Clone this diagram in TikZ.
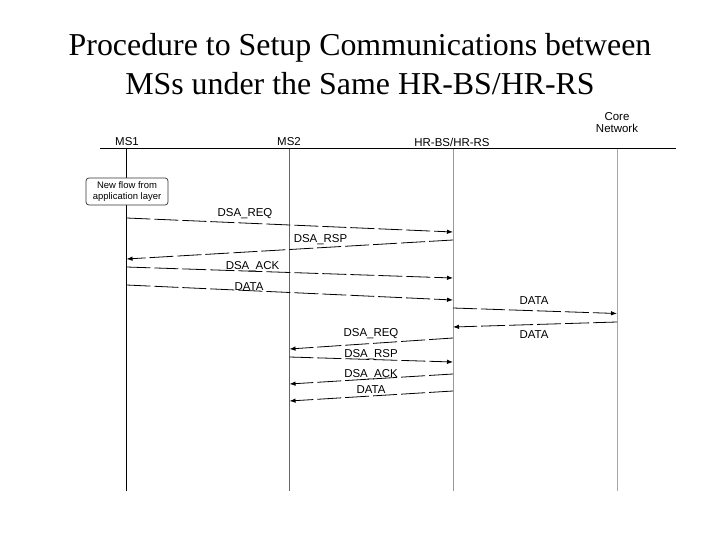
\documentclass[tikz,border=0pt]{standalone}
\usepackage{fontspec}
\setmainfont{Liberation Serif}
\newfontfamily\arialf{Liberation Sans}
\usetikzlibrary{arrows.meta}
\tikzset{
  lbl/.style={font=\arialf\fontsize{11.5}{13}\selectfont, anchor=base, inner sep=0pt},
  msg/.style={line width=0.8bp, dash pattern=on 24bp off 4bp, -{Latex[length=6bp,width=4.5bp]}},
  life/.style={line width=0.9bp},
  titlef/.style={font=\fontsize{32}{38}\selectfont, anchor=base, inner sep=0pt},
}
\begin{document}
\begin{tikzpicture}[x=1bp,y=-1bp]
\useasboundingbox (0,0) rectangle (720,540);
% title
\node[titlef] (t1) at (360,56) {Procedure to Setup Communications between};
\node[titlef] (t2) at (360,95) {MSs under the Same HR-BS/HR-RS};
% header
\coordinate (hl) at (100,149);
\coordinate (hr) at (676,149);
\draw[line width=1bp] (hl) -- (hr);
\node[lbl] (n1) at (127,146) {MS1};
\node[lbl] (n2) at (289,146) {MS2};
\node[lbl] (n3) at (452,147) {HR-BS/HR-RS};
\node[lbl, align=center] (n4) at (617,133) {Core\\[-0.5bp]Network};
% lifelines
\coordinate (m1t) at (126.5,149); \coordinate (m1b) at (126.5,491);
\coordinate (m2t) at (289.5,149); \coordinate (m2b) at (289.5,491);
\coordinate (m3t) at (453,149);   \coordinate (m3b) at (453,491);
\coordinate (m4t) at (617,149);   \coordinate (m4b) at (617,491);
\draw[life, black] (m1t) -- (m1b);
\draw[life, black!60] (m2t) -- (m2b);
\draw[life, black!40] (m3t) -- (m3b);
\draw[life, black!35] (m4t) -- (m4b);
% box
\node[draw=black!80, line width=0.7bp, rounded corners=3bp, fill=white, minimum width=82bp, minimum height=27bp, inner sep=1bp, align=center, font=\arialf\fontsize{9.5}{10.5}\selectfont] (box) at (127,191.5) {New flow from\\application layer};
% messages
\coordinate (a1) at (126.5,218); \coordinate (b1) at (453,232);
\coordinate (a2) at (453,240);   \coordinate (b2) at (126.5,259);
\coordinate (a3) at (126.5,267); \coordinate (b3) at (453,278);
\coordinate (a4) at (126.5,285); \coordinate (b4) at (453,300);
\coordinate (a5) at (453,308);   \coordinate (b5) at (617,313.5);
\coordinate (a6) at (617,322);   \coordinate (b6) at (453,327);
\coordinate (a7) at (453,338);   \coordinate (b7) at (289.5,349);
\coordinate (a8) at (289.5,357); \coordinate (b8) at (453,362);
\coordinate (a9) at (453,374);   \coordinate (b9) at (289.5,384);
\coordinate (a10) at (453,391);  \coordinate (b10) at (289.5,401);
\draw[msg] (a1) -- (b1);
\draw[msg] (a2) -- (b2);
\draw[msg] (a3) -- (b3);
\draw[msg] (a4) -- (b4);
\draw[msg] (a5) -- (b5);
\draw[msg] (a6) -- (b6);
\draw[msg] (a7) -- (b7);
\draw[msg] (a8) -- (b8);
\draw[msg] (a9) -- (b9);
\draw[msg] (a10) -- (b10);
% labels
\node[lbl] (l1) at (245,216.5) {DSA\_REQ};
\node[lbl] (l2) at (320.5,243) {DSA\_RSP};
\node[lbl] (l3) at (252.5,270) {DSA\_ACK};
\node[lbl] (l4) at (249,290) {DATA};
\node[lbl] (l5) at (534,304) {DATA};
\node[lbl] (l6) at (534,338.5) {DATA};
\node[lbl] (l7) at (371,336.5) {DSA\_REQ};
\node[lbl] (l8) at (371,357.5) {DSA\_RSP};
\node[lbl] (l9) at (371,377) {DSA\_ACK};
\node[lbl] (l10) at (371,393) {DATA};
\end{tikzpicture}
\end{document}
